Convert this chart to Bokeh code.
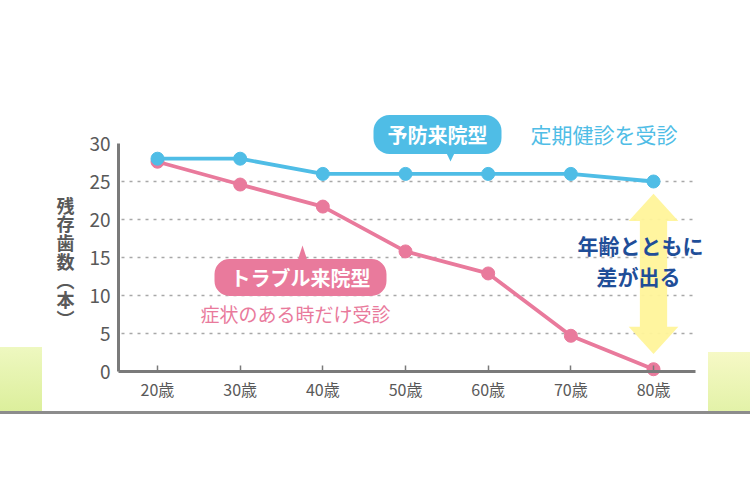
from bokeh.plotting import figure
from bokeh.models import FixedTicker, Label
from bokeh.embed import file_html
from bokeh.resources import INLINE

# ---- data ----
ages = [20, 30, 40, 50, 60, 70, 80]
age_labels = ["20歳", "30歳", "40歳", "50歳", "60歳", "70歳", "80歳"]
yobo = [28, 28, 26, 26, 26, 26, 25]                 # 予防来院型
trouble = [27.6, 24.6, 21.7, 15.8, 12.9, 4.7, 0.3]  # トラブル来院型
y_ticks = [0, 5, 10, 15, 20, 25, 30]
grid_ticks = [5, 10, 15, 20, 25]

BLUE = "#4fbde6"
PINK = "#e97a9c"
YELLOW = "#fff49a"
NAVY = "#1f4e98"
GRAY = "#595959"
FONT = "Noto Sans CJK JP"

W, H = 750, 500
L, R, T, B = 40, 0, 0, 40
fw, fh = W - L - R, H - T - B
# pixel geometry of the chart area (reference)
PX_PER_X = 8.267   # px per year
PX_PER_Y = 7.6     # px per tooth
X_REF_PX, Y_ZERO_PX = 157, 371   # where age 20 / value 0 sit
X0 = ages[0] - (X_REF_PX - L) / PX_PER_X
X1 = X0 + fw / PX_PER_X
Y1 = (Y_ZERO_PX - T) / PX_PER_Y
Y0 = Y1 - fh / PX_PER_Y


def px2x(px):
    return X0 + (px - L) / PX_PER_X


def px2y(py):
    return Y1 - (py - T) / PX_PER_Y


p = figure(width=W, height=H, x_range=(X0, X1), y_range=(Y0, Y1),
           output_backend="svg", toolbar_location=None,
           min_border_left=L, min_border_right=R, min_border_top=T, min_border_bottom=B)
p.outline_line_color = None
p.background_fill_alpha = 0
p.border_fill_alpha = 0
# page decorations behind the chart: bottom rule and soft green corners
p.styles = {
    "background": (
        "linear-gradient(#8c8c8c,#8c8c8c) 0px 411px / 750px 3px no-repeat, "
        "linear-gradient(180deg,#eef8c0,#dcef9c) 0px 347px / 42px 64px no-repeat, "
        "linear-gradient(180deg,#f6f9c6,#e3f2a8) 708px 352px / 42px 59px no-repeat, "
        "white"
    )
}

# grid (dotted, only between the axes)
p.xgrid.visible = False
p.ygrid.visible = False
p.segment(x0=[px2x(121)] * len(grid_ticks), y0=grid_ticks,
          x1=[px2x(695)] * len(grid_ticks), y1=grid_ticks,
          line_color="#a8a8a8", line_dash="3 5", line_width=1.5)

# y axis
p.yaxis.fixed_location = px2x(118)
p.yaxis.ticker = FixedTicker(ticks=y_ticks)
p.yaxis.bounds = (0, 30)
p.yaxis.major_tick_in = 0
p.yaxis.major_tick_out = 0
p.yaxis.minor_tick_line_color = None
p.yaxis.axis_line_color = "#7a7a7a"
p.yaxis.axis_line_width = 3
p.yaxis.major_label_text_font_size = "19px"
p.yaxis.major_label_text_color = GRAY
p.yaxis.major_label_text_font = FONT
p.yaxis.major_label_standoff = 8

# x axis
p.xaxis.fixed_location = 0
p.xaxis.ticker = FixedTicker(ticks=ages)
p.xaxis.bounds = (px2x(118), px2x(695))
p.xaxis.major_label_overrides = {a: l for a, l in zip(ages, age_labels)}
p.xaxis.major_tick_in = 6
p.xaxis.major_tick_out = 0
p.xaxis.major_tick_line_color = "#7a7a7a"
p.xaxis.major_tick_line_width = 1.5
p.xaxis.minor_tick_line_color = None
p.xaxis.axis_line_color = "#7a7a7a"
p.xaxis.axis_line_width = 3
p.xaxis.major_label_text_font_size = "16px"
p.xaxis.major_label_text_color = GRAY
p.xaxis.major_label_text_font = FONT
p.xaxis.major_label_standoff = 5

# yellow double arrow at the last age
ax = ages[-1]
top, bot, hh, hw, sw = 23.4, 2.3, 3.6, 3.0, 1.65
arrow_x = [ax, ax + hw, ax + sw, ax + sw, ax + hw, ax, ax - hw, ax - sw, ax - sw, ax - hw]
arrow_y = [top, top - hh, top - hh, bot + hh, bot + hh, bot, bot + hh, bot + hh, top - hh, top - hh]
p.patch(arrow_x, arrow_y, fill_color=YELLOW, fill_alpha=0.95, line_color=None)

# lines
p.line(ages, trouble, line_color=PINK, line_width=3.8)
p.scatter(ages, trouble, size=13, fill_color=PINK, line_color=PINK)
p.line(ages, yobo, line_color=BLUE, line_width=3.8)
p.scatter(ages, yobo, size=13, fill_color=BLUE, line_color=BLUE)

# callout pointers
bx = px2x(450)
p.patch([bx - 0.75, bx + 0.75, bx], [px2y(148), px2y(148), px2y(161)],
        fill_color=BLUE, line_color=None)
kx = px2x(302)
p.patch([kx - 0.75, kx + 0.75, kx], [px2y(264), px2y(264), px2y(245)],
        fill_color=PINK, line_color=None)

# callout labels
p.add_layout(Label(x=px2x(437), y=px2y(134), text="予防来院型", text_align="center",
                   text_baseline="middle", text_font=FONT, text_font_size="20px",
                   text_font_style="bold", text_color="white",
                   background_fill_color=BLUE, padding=dict(left=14, right=14, top=5, bottom=5),
                   border_radius=16))
p.add_layout(Label(x=px2x(530), y=px2y(133), text="定期健診を受診", text_align="left",
                   text_baseline="middle", text_font=FONT, text_font_size="21px",
                   text_color=BLUE))
p.add_layout(Label(x=px2x(300), y=px2y(277), text="トラブル来院型", text_align="center",
                   text_baseline="middle", text_font=FONT, text_font_size="20px",
                   text_font_style="bold", text_color="white",
                   background_fill_color=PINK, padding=dict(left=16, right=16, top=4, bottom=4),
                   border_radius=15))
p.add_layout(Label(x=px2x(295), y=px2y(313), text="症状のある時だけ受診", text_align="center",
                   text_baseline="middle", text_font=FONT, text_font_size="19px",
                   text_color=PINK))
p.add_layout(Label(x=px2x(640), y=px2y(244), text="年齢とともに", text_align="center",
                   text_baseline="middle", text_font=FONT, text_font_size="21px",
                   text_font_style="bold", text_color=NAVY))
p.add_layout(Label(x=px2x(638), y=px2y(275), text="差が出る", text_align="center",
                   text_baseline="middle", text_font=FONT, text_font_size="21px",
                   text_font_style="bold", text_color=NAVY))

# vertical y-axis title
p.add_layout(Label(x=px2x(65), y=px2y(191), text="残\n存\n歯\n数\n︵\n本\n︶", text_align="center",
                   text_baseline="top", text_font=FONT, text_font_size="18px",
                   text_font_style="bold", text_color=GRAY, text_line_height=0.73))

open("out.html", "w").write(file_html(p, INLINE))
